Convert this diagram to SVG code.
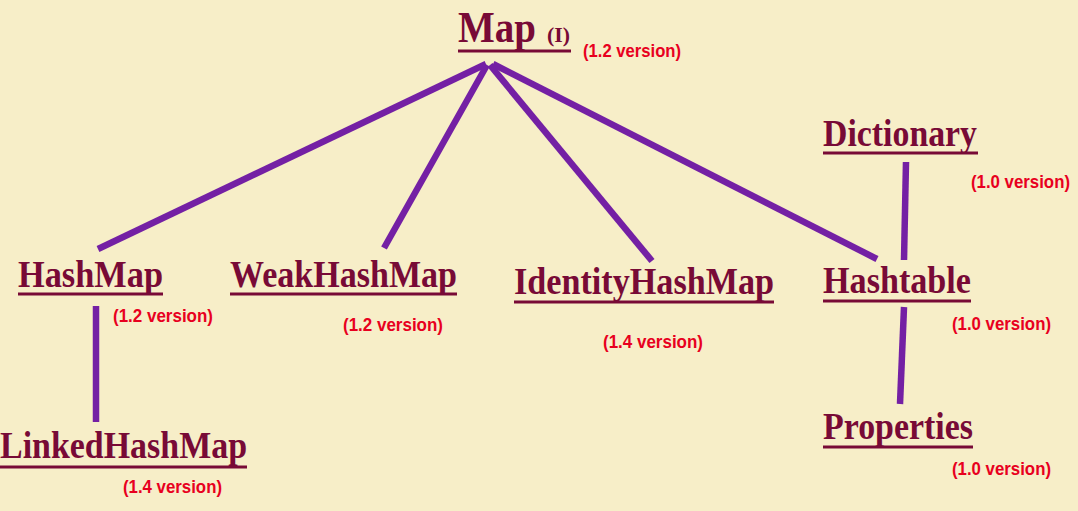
<svg xmlns="http://www.w3.org/2000/svg" width="1078" height="511" viewBox="0 0 1078 511">
<style>
.t{font-family:"Liberation Serif","Times New Roman",serif;font-weight:bold;fill:#780A36}
.v{font-family:"Liberation Sans",Arial,sans-serif;font-weight:bold;fill:#E8001E;font-size:19px}
.u{stroke:#780A36;stroke-width:3}
.c{stroke:#7420A4;stroke-width:6.5;stroke-linecap:butt;fill:none}
</style>
<rect width="1078" height="511" fill="#F7EEC8"/>
<g id="connectors">
<line class="c" x1="486" y1="64" x2="98" y2="249"/>
<line class="c" x1="487" y1="65" x2="384" y2="248"/>
<line class="c" x1="490" y1="65" x2="652" y2="261"/>
<line class="c" x1="493" y1="64" x2="877" y2="259"/>
<line class="c" x1="906" y1="162" x2="904" y2="260"/>
<line class="c" x1="904" y1="307" x2="900" y2="404"/>
<line class="c" x1="96" y1="306" x2="96" y2="422"/>
</g>
<g id="map">
<text class="t" x="458" y="42" font-size="45" textLength="78" lengthAdjust="spacingAndGlyphs">Map</text>
<text class="t" x="547" y="42" font-size="20" textLength="23" lengthAdjust="spacingAndGlyphs">(I)</text>
<line class="u" x1="458" y1="51" x2="571" y2="51"/>
<text class="v" x="583" y="57" textLength="98" lengthAdjust="spacingAndGlyphs">(1.2 version)</text>
</g>
<g id="hashmap">
<text class="t" x="18" y="287" font-size="38" textLength="145" lengthAdjust="spacingAndGlyphs">HashMap</text>
<line class="u" x1="18" y1="294" x2="163" y2="294"/>
<text class="v" x="113" y="322" textLength="100" lengthAdjust="spacingAndGlyphs">(1.2 version)</text>
</g>
<g id="weakhashmap">
<text class="t" x="230" y="287" font-size="38" textLength="227" lengthAdjust="spacingAndGlyphs">WeakHashMap</text>
<line class="u" x1="230" y1="294" x2="457" y2="294"/>
<text class="v" x="343" y="331" textLength="100" lengthAdjust="spacingAndGlyphs">(1.2 version)</text>
</g>
<g id="identityhashmap">
<text class="t" x="514" y="294" font-size="38" textLength="260" lengthAdjust="spacingAndGlyphs">IdentityHashMap</text>
<line class="u" x1="514" y1="302" x2="774" y2="302"/>
<text class="v" x="603" y="348" textLength="100" lengthAdjust="spacingAndGlyphs">(1.4 version)</text>
</g>
<g id="dictionary">
<text class="t" x="823" y="146" font-size="38" textLength="154" lengthAdjust="spacingAndGlyphs">Dictionary</text>
<line class="u" x1="823" y1="153" x2="978" y2="153"/>
<text class="v" x="971" y="188" textLength="99" lengthAdjust="spacingAndGlyphs">(1.0 version)</text>
</g>
<g id="hashtable">
<text class="t" x="823" y="293" font-size="38" textLength="148" lengthAdjust="spacingAndGlyphs">Hashtable</text>
<line class="u" x1="823" y1="301" x2="971" y2="301"/>
<text class="v" x="952" y="330" textLength="99" lengthAdjust="spacingAndGlyphs">(1.0 version)</text>
</g>
<g id="properties">
<text class="t" x="823" y="439" font-size="38" textLength="150" lengthAdjust="spacingAndGlyphs">Properties</text>
<line class="u" x1="823" y1="447" x2="973" y2="447"/>
<text class="v" x="952" y="475" textLength="99" lengthAdjust="spacingAndGlyphs">(1.0 version)</text>
</g>
<g id="linkedhashmap">
<text class="t" x="0" y="458" font-size="38" textLength="247" lengthAdjust="spacingAndGlyphs">LinkedHashMap</text>
<line class="u" x1="0" y1="467" x2="247" y2="467"/>
<text class="v" x="123" y="493" textLength="99" lengthAdjust="spacingAndGlyphs">(1.4 version)</text>
</g>
</svg>
